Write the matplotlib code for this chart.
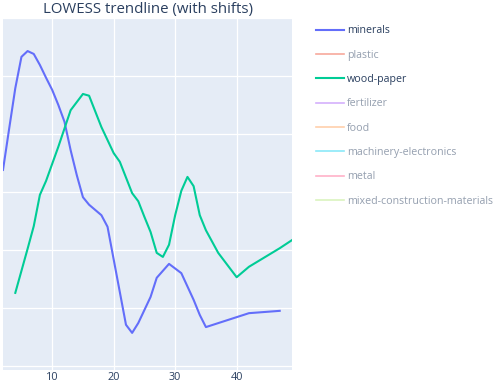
import numpy as np
import matplotlib
matplotlib.use("Agg")
import matplotlib.pyplot as plt
from matplotlib.lines import Line2D

plt.rcParams['font.family'] = ['Open Sans', 'DejaVu Sans']

# LOWESS trend values (y axis has no labels, units are arbitrary)
minerals_x = [2, 3, 4, 5, 6, 7, 8, 9, 10, 11, 12, 13, 14, 15, 16, 17, 18, 19,
              22, 23, 24, 26, 27, 29, 31, 33, 34, 35, 42, 47]
minerals_y = [3.38, 4.09, 4.79, 5.33, 5.43, 5.38, 5.19, 4.97, 4.76, 4.50, 4.21,
              3.72, 3.29, 2.91, 2.78, 2.69, 2.60, 2.40, 0.71, 0.57, 0.74, 1.19,
              1.52, 1.76, 1.60, 1.14, 0.88, 0.67, 0.91, 0.95]

wood_x = [4, 5, 6, 7, 8, 9, 11, 13, 15, 16, 18, 20, 21, 23, 24, 25, 26, 27, 28,
          29, 30, 31, 32, 33, 34, 35, 37, 40, 42, 47, 49]
wood_y = [1.26, 1.64, 2.02, 2.41, 2.95, 3.19, 3.78, 4.41, 4.69, 4.66, 4.12, 3.67,
          3.52, 2.98, 2.84, 2.57, 2.31, 1.95, 1.88, 2.09, 2.60, 3.02, 3.26, 3.10,
          2.60, 2.34, 1.95, 1.53, 1.71, 2.03, 2.17]

# legend entries, hidden ones are shown faded (legendonly)
names = ['minerals', 'plastic', 'wood-paper', 'fertilizer', 'food',
         'machinery-electronics', 'metal', 'mixed-construction-materials']
colors = ['#636efa', '#EF553B', '#00cc96', '#ab63fa', '#FFA15A',
          '#19d3f3', '#FF6692', '#B6E880']
visible = [True, False, True, False, False, False, False, False]

xticks = [10, 20, 30, 40]

fig = plt.figure(figsize=(4.98, 3.84), dpi=100)
ax = fig.add_axes([3 / 498, 14 / 384, 289 / 498, 352 / 384])
ax.set_facecolor('#E5ECF6')

ax.plot(minerals_x, minerals_y, color=colors[0], lw=1.5, zorder=3)
ax.plot(wood_x, wood_y, color=colors[2], lw=1.5, zorder=3)

ax.set_xlim(2, 49)
ax.set_ylim(-0.07, 6.0)
ax.set_xticks(xticks)
ax.set_yticks(range(0, 7))
ax.set_yticklabels([])
ax.tick_params(length=0, labelsize=7.8, labelcolor='#2a3f5f', pad=1.5)
ax.grid(color='white', lw=0.9)
ax.set_axisbelow(True)
for s in ax.spines.values():
    s.set_visible(False)

fig.text(148 / 498, 1 - 9 / 384, 'LOWESS trendline (with shifts)',
         ha='center', va='center', fontsize=10.8, color='#2a3f5f')

handles = [Line2D([], [], color=c, lw=1.5 if v else 1.2, alpha=1 if v else 0.5)
           for c, v in zip(colors, visible)]
leg = fig.legend(handles, names, loc='upper left',
                 bbox_to_anchor=(312 / 498, 1 - 21 / 384), frameon=False,
                 fontsize=7.7, handlelength=2.6, handletextpad=0.3,
                 labelspacing=1.25, borderaxespad=0)
for t, v in zip(leg.get_texts(), visible):
    t.set_color('#2a3f5f')
    if not v:
        t.set_alpha(0.5)

fig.savefig('out.png', dpi=100)
